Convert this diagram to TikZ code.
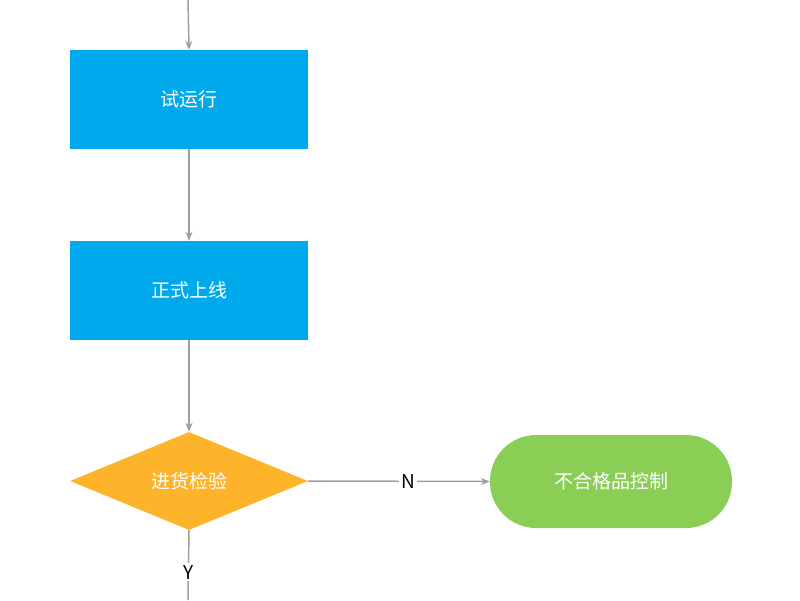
\documentclass[tikz,border=0pt]{standalone}
\usepackage{fontspec}
\setmainfont{Noto Sans CJK SC}
\usetikzlibrary{shapes.geometric,arrows.meta}
\definecolor{boxblue}{HTML}{00A8EC}
\definecolor{dorange}{HTML}{FDB42A}
\definecolor{pgreen}{HTML}{8BCE55}
\definecolor{lgray}{HTML}{9E9E9E}
\begin{document}
\begin{tikzpicture}[x=1pt,y=-1pt,
  box/.style={draw=none,fill=boxblue,minimum width=238pt,minimum height=99pt,text=white,font=\fontsize{19}{22}\selectfont,inner sep=0},
  dia/.style={diamond,aspect=2.43,fill=dorange,minimum width=238pt,minimum height=98pt,inner sep=0,text=white,font=\fontsize{19}{22}\selectfont},
  pill/.style={rounded corners=46pt,fill=pgreen,minimum width=242pt,minimum height=93pt,text=white,font=\fontsize{19}{22}\selectfont,inner sep=0},
  con/.style={draw=lgray,line width=1.5pt,-{Stealth[length=9pt,width=7pt]}},
  lbl/.style={fill=white,font=\fontsize{19}{22}\selectfont,text=black,inner sep=2pt}]
\useasboundingbox (0,0) rectangle (800,600);
\coordinate (top) at (188,0);
\coordinate (bot) at (188,600);
\node[box] (b1) at (189,99.5) {试运行};
\node[box] (b2) at (189,290.5) {正式上线};
\node[dia] (d) at (189,481) {进货检验};
\node[pill] (p) at (611,481.5) {不合格品控制};
\draw[con] (top) -- (b1.north);
\draw[con] (b1) -- (b2);
\draw[con] (b2) -- (d.north);
\draw[con] (d.east) -- node[lbl,pos=0.55]{N} (p.west);
\draw[draw=lgray,line width=1.5pt] (d.south) -- node[lbl,pos=0.6]{Y} (bot);
\end{tikzpicture}
\end{document}
